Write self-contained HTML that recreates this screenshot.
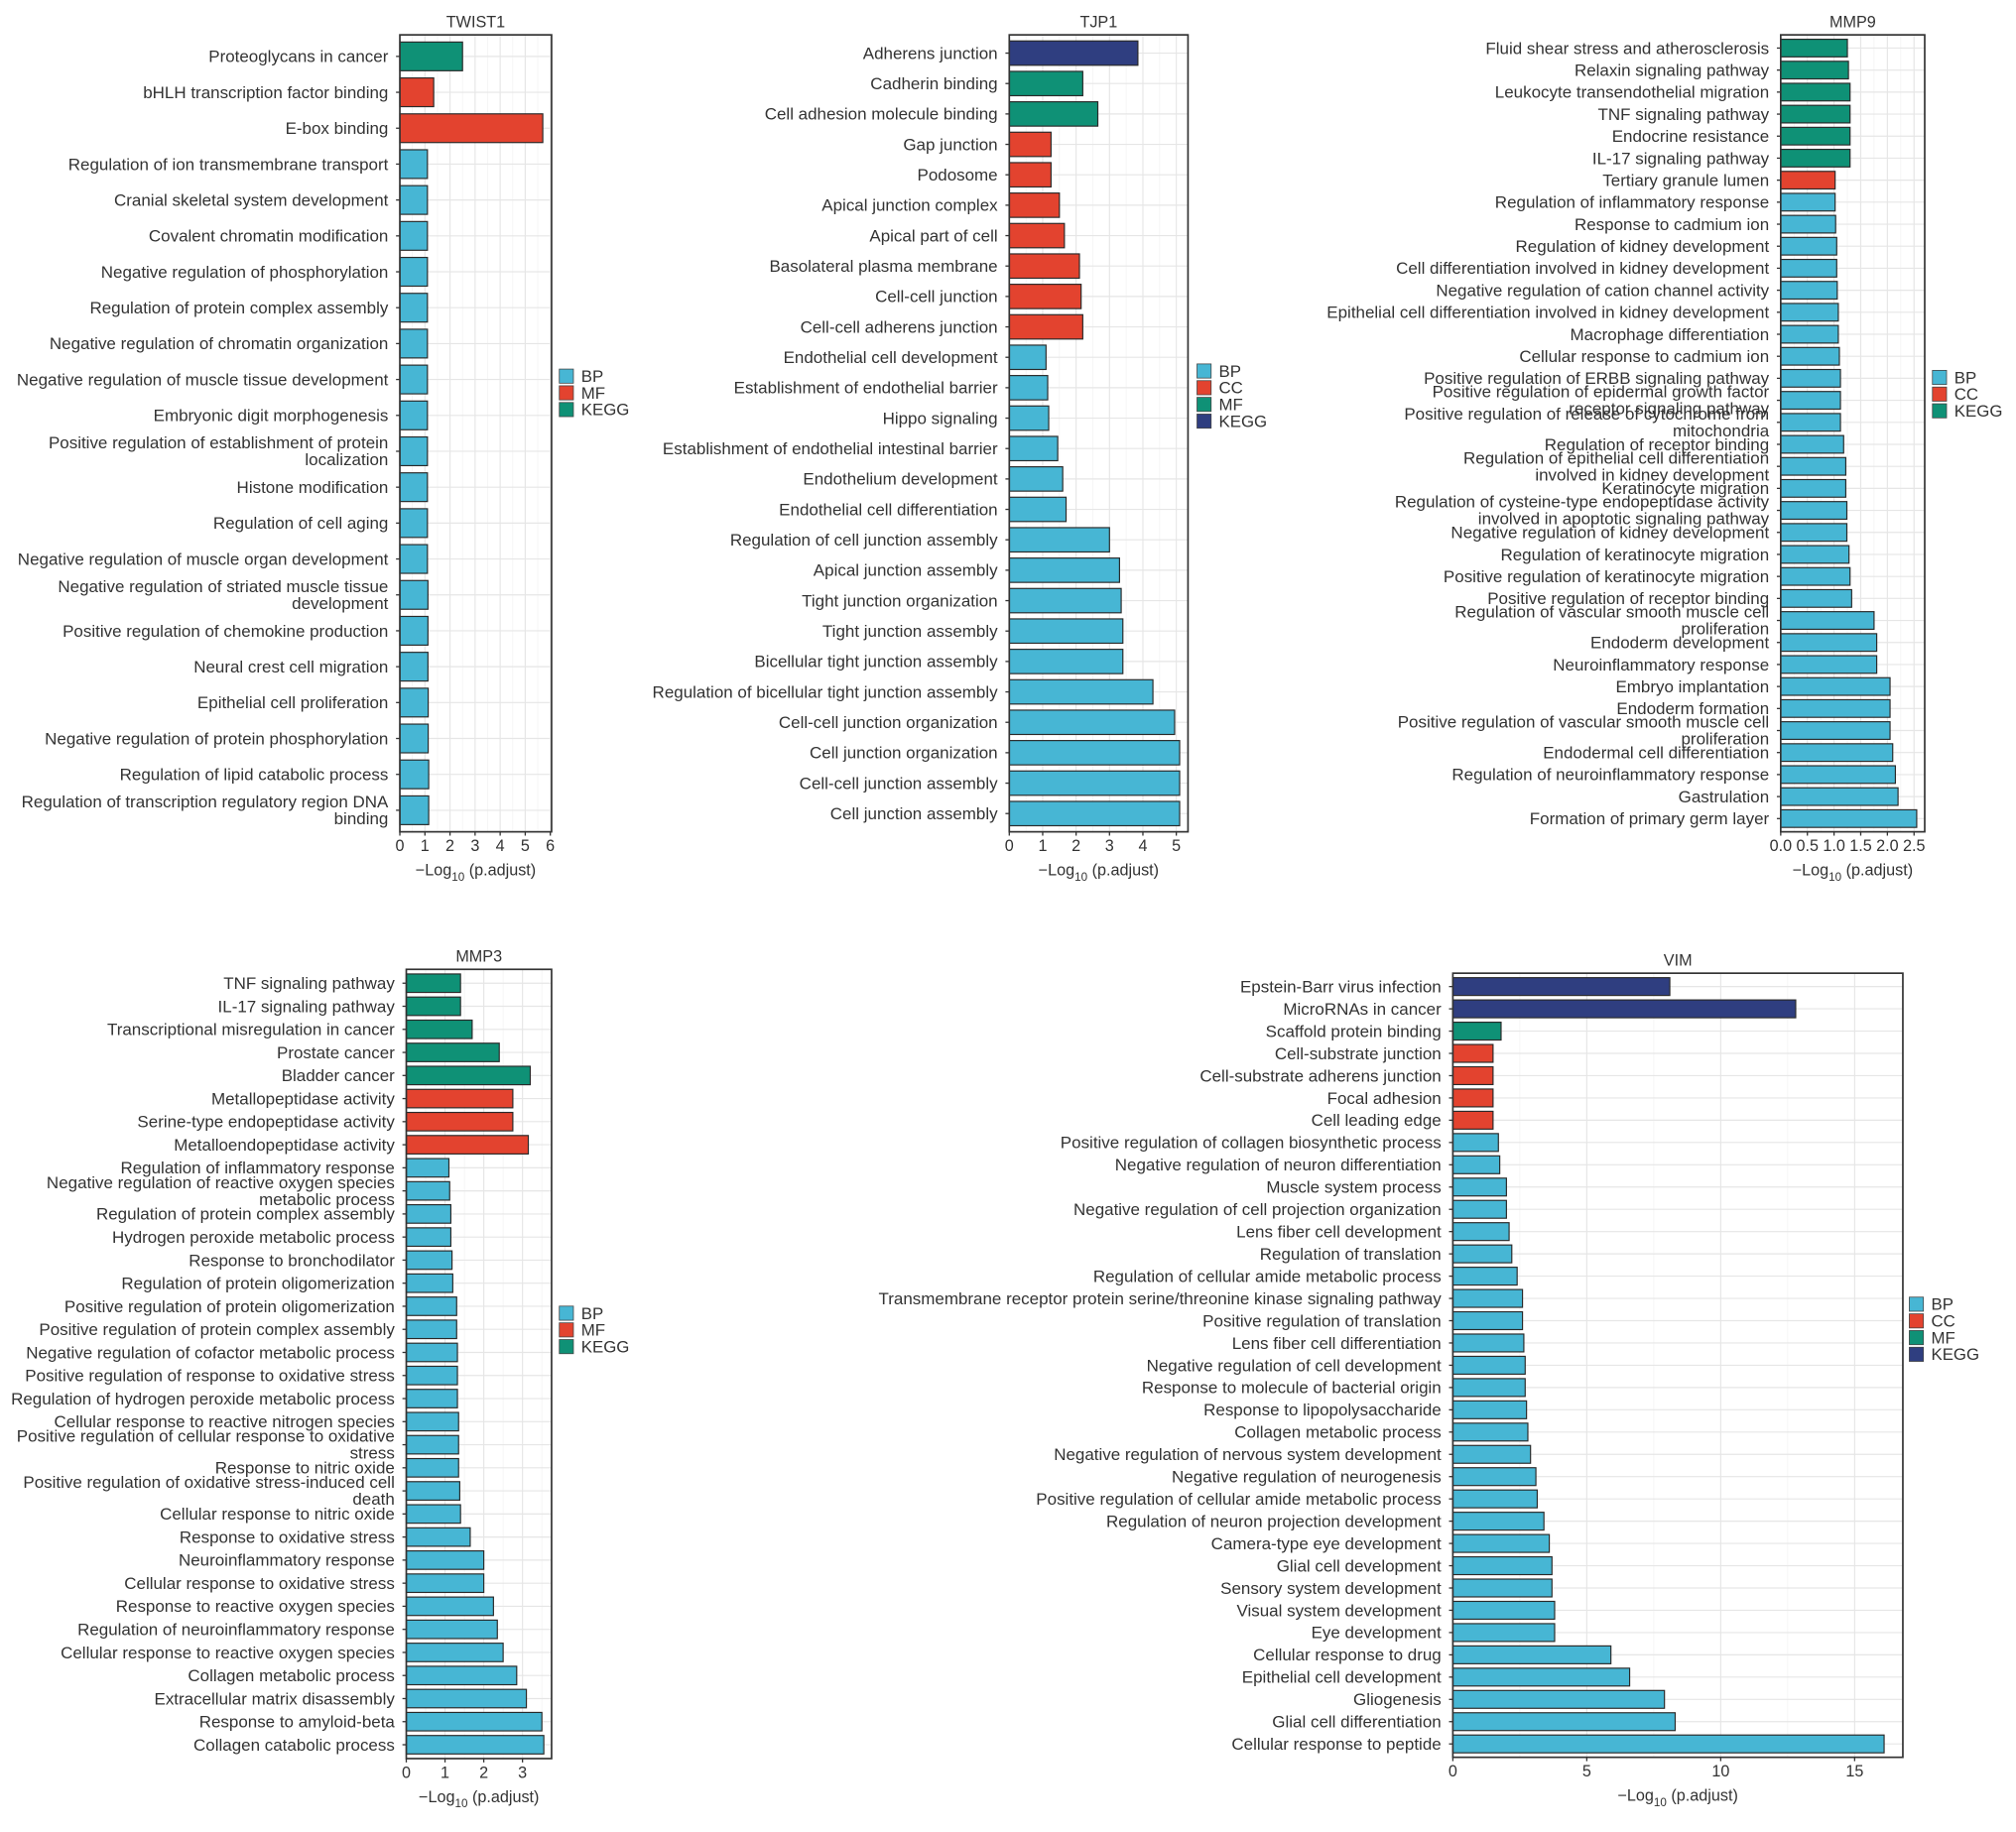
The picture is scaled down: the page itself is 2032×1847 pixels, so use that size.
<!DOCTYPE html>
<html><head><meta charset="utf-8">
<style>
html,body{margin:0;padding:0;background:#fff;}
svg{display:block;}
text{font-family:"Liberation Sans",Arial,sans-serif;fill:#333;}
</style></head>
<body>
<svg id="fig" width="2032" height="1847" viewBox="0 0 1568 1425" xmlns="http://www.w3.org/2000/svg"></svg>
<script>
const PALETTE = ['#47b6d4','#e3432f','#0f9176','#2f3e80'];

// TWIST1
const twistLabels = ["Proteoglycans in cancer","bHLH transcription factor binding","E-box binding","Regulation of ion transmembrane transport","Cranial skeletal system development","Covalent chromatin modification","Negative regulation of phosphorylation","Regulation of protein complex assembly","Negative regulation of chromatin organization","Negative regulation of muscle tissue development","Embryonic digit morphogenesis","Positive regulation of establishment of protein|localization","Histone modification","Regulation of cell aging","Negative regulation of muscle organ development","Negative regulation of striated muscle tissue|development","Positive regulation of chemokine production","Neural crest cell migration","Epithelial cell proliferation","Negative regulation of protein phosphorylation","Regulation of lipid catabolic process","Regulation of transcription regulatory region DNA|binding"];
const twistValues = [2.5,1.35,5.7,1.1,1.1,1.1,1.1,1.1,1.1,1.1,1.1,1.1,1.1,1.1,1.1,1.12,1.12,1.12,1.13,1.13,1.15,1.15];
const twistTypes = ["KEGG","MF","MF","BP","BP","BP","BP","BP","BP","BP","BP","BP","BP","BP","BP","BP","BP","BP","BP","BP","BP","BP"];
const twistTicks = [0,1,2,3,4,5,6];
const twistLegend = ["BP","MF","KEGG"];

// TJP1
const tjpLabels = ["Adherens junction","Cadherin binding","Cell adhesion molecule binding","Gap junction","Podosome","Apical junction complex","Apical part of cell","Basolateral plasma membrane","Cell-cell junction","Cell-cell adherens junction","Endothelial cell development","Establishment of endothelial barrier","Hippo signaling","Establishment of endothelial intestinal barrier","Endothelium development","Endothelial cell differentiation","Regulation of cell junction assembly","Apical junction assembly","Tight junction organization","Tight junction assembly","Bicellular tight junction assembly","Regulation of bicellular tight junction assembly","Cell-cell junction organization","Cell junction organization","Cell-cell junction assembly","Cell junction assembly"];
const tjpValues = [3.85,2.2,2.65,1.25,1.25,1.5,1.65,2.1,2.15,2.2,1.1,1.15,1.18,1.45,1.6,1.7,3.0,3.3,3.35,3.4,3.4,4.3,4.95,5.1,5.1,5.1];
const tjpTypes = ["KEGG","MF","MF","CC","CC","CC","CC","CC","CC","CC","BP","BP","BP","BP","BP","BP","BP","BP","BP","BP","BP","BP","BP","BP","BP","BP"];
const tjpTicks = [0,1,2,3,4,5];
const tjpLegend = ["BP","CC","MF","KEGG"];

// MMP9
const mmp9Labels = ["Fluid shear stress and atherosclerosis","Relaxin signaling pathway","Leukocyte transendothelial migration","TNF signaling pathway","Endocrine resistance","IL-17 signaling pathway","Tertiary granule lumen","Regulation of inflammatory response","Response to cadmium ion","Regulation of kidney development","Cell differentiation involved in kidney development","Negative regulation of cation channel activity","Epithelial cell differentiation involved in kidney development","Macrophage differentiation","Cellular response to cadmium ion","Positive regulation of ERBB signaling pathway","Positive regulation of epidermal growth factor|receptor signaling pathway","Positive regulation of release of cytochrome from|mitochondria","Regulation of receptor binding","Regulation of epithelial cell differentiation|involved in kidney development","Keratinocyte migration","Regulation of cysteine-type endopeptidase activity|involved in apoptotic signaling pathway","Negative regulation of kidney development","Regulation of keratinocyte migration","Positive regulation of keratinocyte migration","Positive regulation of receptor binding","Regulation of vascular smooth muscle cell|proliferation","Endoderm development","Neuroinflammatory response","Embryo implantation","Endoderm formation","Positive regulation of vascular smooth muscle cell|proliferation","Endodermal cell differentiation","Regulation of neuroinflammatory response","Gastrulation","Formation of primary germ layer"];
const mmp9Values = [1.25,1.27,1.3,1.3,1.3,1.3,1.02,1.02,1.03,1.05,1.05,1.06,1.08,1.08,1.1,1.12,1.12,1.12,1.18,1.22,1.22,1.24,1.24,1.28,1.3,1.33,1.75,1.8,1.8,2.05,2.05,2.05,2.1,2.15,2.2,2.55];
const mmp9Types = ["KEGG","KEGG","KEGG","KEGG","KEGG","KEGG","CC","BP","BP","BP","BP","BP","BP","BP","BP","BP","BP","BP","BP","BP","BP","BP","BP","BP","BP","BP","BP","BP","BP","BP","BP","BP","BP","BP","BP","BP"];
const mmp9Ticks = [0,0.5,1,1.5,2,2.5];
const mmp9TickLabels = ["0.0","0.5","1.0","1.5","2.0","2.5"];
const mmp9Legend = ["BP","CC","KEGG"];

// MMP3
const mmp3Labels = ["TNF signaling pathway","IL-17 signaling pathway","Transcriptional misregulation in cancer","Prostate cancer","Bladder cancer","Metallopeptidase activity","Serine-type endopeptidase activity","Metalloendopeptidase activity","Regulation of inflammatory response","Negative regulation of reactive oxygen species|metabolic process","Regulation of protein complex assembly","Hydrogen peroxide metabolic process","Response to bronchodilator","Regulation of protein oligomerization","Positive regulation of protein oligomerization","Positive regulation of protein complex assembly","Negative regulation of cofactor metabolic process","Positive regulation of response to oxidative stress","Regulation of hydrogen peroxide metabolic process","Cellular response to reactive nitrogen species","Positive regulation of cellular response to oxidative|stress","Response to nitric oxide","Positive regulation of oxidative stress-induced cell|death","Cellular response to nitric oxide","Response to oxidative stress","Neuroinflammatory response","Cellular response to oxidative stress","Response to reactive oxygen species","Regulation of neuroinflammatory response","Cellular response to reactive oxygen species","Collagen metabolic process","Extracellular matrix disassembly","Response to amyloid-beta","Collagen catabolic process"];
const mmp3Values = [1.4,1.4,1.7,2.4,3.2,2.75,2.75,3.15,1.1,1.12,1.15,1.15,1.18,1.2,1.3,1.3,1.32,1.32,1.32,1.35,1.35,1.35,1.38,1.4,1.65,2.0,2.0,2.25,2.35,2.5,2.85,3.1,3.5,3.55];
const mmp3Types = ["KEGG","KEGG","KEGG","KEGG","KEGG","MF","MF","MF","BP","BP","BP","BP","BP","BP","BP","BP","BP","BP","BP","BP","BP","BP","BP","BP","BP","BP","BP","BP","BP","BP","BP","BP","BP","BP"];
const mmp3Ticks = [0,1,2,3];
const mmp3Legend = ["BP","MF","KEGG"];

// VIM
const vimLabels = ["Epstein-Barr virus infection","MicroRNAs in cancer","Scaffold protein binding","Cell-substrate junction","Cell-substrate adherens junction","Focal adhesion","Cell leading edge","Positive regulation of collagen biosynthetic process","Negative regulation of neuron differentiation","Muscle system process","Negative regulation of cell projection organization","Lens fiber cell development","Regulation of translation","Regulation of cellular amide metabolic process","Transmembrane receptor protein serine/threonine kinase signaling pathway","Positive regulation of translation","Lens fiber cell differentiation","Negative regulation of cell development","Response to molecule of bacterial origin","Response to lipopolysaccharide","Collagen metabolic process","Negative regulation of nervous system development","Negative regulation of neurogenesis","Positive regulation of cellular amide metabolic process","Regulation of neuron projection development","Camera-type eye development","Glial cell development","Sensory system development","Visual system development","Eye development","Cellular response to drug","Epithelial cell development","Gliogenesis","Glial cell differentiation","Cellular response to peptide"];
const vimValues = [8.1,12.8,1.8,1.5,1.5,1.5,1.5,1.7,1.75,2.0,2.0,2.1,2.2,2.4,2.6,2.6,2.65,2.7,2.7,2.75,2.8,2.9,3.1,3.15,3.4,3.6,3.7,3.7,3.8,3.8,5.9,6.6,7.9,8.3,16.1];
const vimTypes = ["KEGG","KEGG","MF","CC","CC","CC","CC","BP","BP","BP","BP","BP","BP","BP","BP","BP","BP","BP","BP","BP","BP","BP","BP","BP","BP","BP","BP","BP","BP","BP","BP","BP","BP","BP","BP"];
const vimTicks = [0,5,10,15];
const vimLegend = ["BP","CC","MF","KEGG"];

const NS='http://www.w3.org/2000/svg';
const svg=document.getElementById('fig');
function mk(tag,attrs,parent){const e=document.createElementNS(NS,tag);for(const k in attrs)e.setAttribute(k,attrs[k]);(parent||svg).appendChild(e);return e;}

function panel(cfg){
  const g=mk('g',{});
  
  
  const col=k=>PALETTE[cfg.legend.indexOf(k)];
  const L=cfg.x0,R=cfg.x1,T=cfg.y0,B=cfg.y1,n=cfg.labels.length;
  const xs=v=>L+(v/cfg.xmax)*(R-L);
  const step=(B-T)/(n-1+1.2);
  const ys=i=>T+step*(0.6+i);
  const fs=13.1;
  mk('rect',{x:L,y:T,width:R-L,height:B-T,fill:'#fff'},g);
  for(let i=0;i<cfg.ticks.length;i++){
    const a=cfg.ticks[i], d=cfg.ticks[1]-cfg.ticks[0], m=a+d/2;
    if(m<cfg.xmax){mk('line',{x1:xs(m),x2:xs(m),y1:T,y2:B,stroke:'#f3f3f3','stroke-width':0.6},g);}
  }
  cfg.ticks.forEach(t=>{mk('line',{x1:xs(t),x2:xs(t),y1:T,y2:B,stroke:'#e6e6e6','stroke-width':0.9},g);});
  cfg.labels.forEach((l,i)=>{mk('line',{x1:L,x2:R,y1:ys(i),y2:ys(i),stroke:'#e6e6e6','stroke-width':0.9},g);});
  const bh=step*0.8;
  cfg.values.forEach((v,i)=>{
    const r=mk('rect',{x:L,y:ys(i)-bh/2,width:xs(v)-L,height:bh,fill:col(cfg.types[i]),stroke:'#2a2a2a','stroke-width':0.9},g);
    
    
  });
  mk('rect',{x:L,y:T,width:R-L,height:B-T,fill:'none',stroke:'#333','stroke-width':1.3},g);
  cfg.labels.forEach((l,i)=>{
    mk('line',{x1:L-3,x2:L,y1:ys(i),y2:ys(i),stroke:'#333','stroke-width':1},g);
    const parts=l.split('|');
    const t=mk('text',{x:L-9,y:ys(i)+4.5,'text-anchor':'end','font-size':fs},g);
    
    
    if(parts.length===1){t.textContent=l;}
    else{
      t.setAttribute('y',ys(i)-2.2);
      const a=mk('tspan',{x:L-9},t);a.textContent=parts[0];
      const b=mk('tspan',{x:L-9,dy:fs*1.0},t);b.textContent=parts[1];
    }
  });
  cfg.ticks.forEach((tk,i)=>{
    mk('line',{x1:xs(tk),x2:xs(tk),y1:B,y2:B+3,stroke:'#333','stroke-width':1},g);
    const t=mk('text',{x:xs(tk),y:B+15,'text-anchor':'middle','font-size':12.5},g);
    
    
    t.textContent=cfg.tickLabels?cfg.tickLabels[i]:String(tk);
  });
  const xt=mk('text',{x:(L+R)/2,y:B+34,'text-anchor':'middle','font-size':12.5},g);
  
  
  xt.innerHTML='\u2212Log<tspan font-size="9" dy="4">10</tspan><tspan dy="-4"> (p.adjust)</tspan>';
  const tt=mk('text',{x:(L+R)/2,y:T-6,'text-anchor':'middle','font-size':12.5},g);
  
  
  tt.textContent=cfg.title;
  cfg.legend.forEach((k,i)=>{
    const yy=cfg.ly+i*13;
    const sw=mk('rect',{x:cfg.lx,y:yy,width:11,height:11,fill:col(k),stroke:'#444','stroke-width':0.6},g);
    
    
    const lt=mk('text',{x:cfg.lx+17,y:yy+10,'font-size':13},g);
    
    
    lt.textContent=k;
  });
}

panel({id:'twist1',title:'TWIST1',x0:311,x1:429,y0:27,y1:647,xmax:6.05,labels:twistLabels,values:twistValues,types:twistTypes,ticks:twistTicks,legend:twistLegend,lx:435,ly:287});
panel({id:'tjp1',title:'TJP1',x0:785,x1:924,y0:27,y1:647,xmax:5.35,labels:tjpLabels,values:tjpValues,types:tjpTypes,ticks:tjpTicks,legend:tjpLegend,lx:931,ly:283});
panel({id:'mmp9',title:'MMP9',x0:1385,x1:1497,y0:27,y1:647,xmax:2.7,labels:mmp9Labels,values:mmp9Values,types:mmp9Types,ticks:mmp9Ticks,tickLabels:mmp9TickLabels,legend:mmp9Legend,lx:1503,ly:288});
panel({id:'mmp3',title:'MMP3',x0:316,x1:429,y0:754,y1:1368,xmax:3.75,labels:mmp3Labels,values:mmp3Values,types:mmp3Types,ticks:mmp3Ticks,legend:mmp3Legend,lx:435,ly:1016});
panel({id:'vim',title:'VIM',x0:1130,x1:1480,y0:757,y1:1367,xmax:16.8,labels:vimLabels,values:vimValues,types:vimTypes,ticks:vimTicks,legend:vimLegend,lx:1485,ly:1009});
</script>
</body></html>
